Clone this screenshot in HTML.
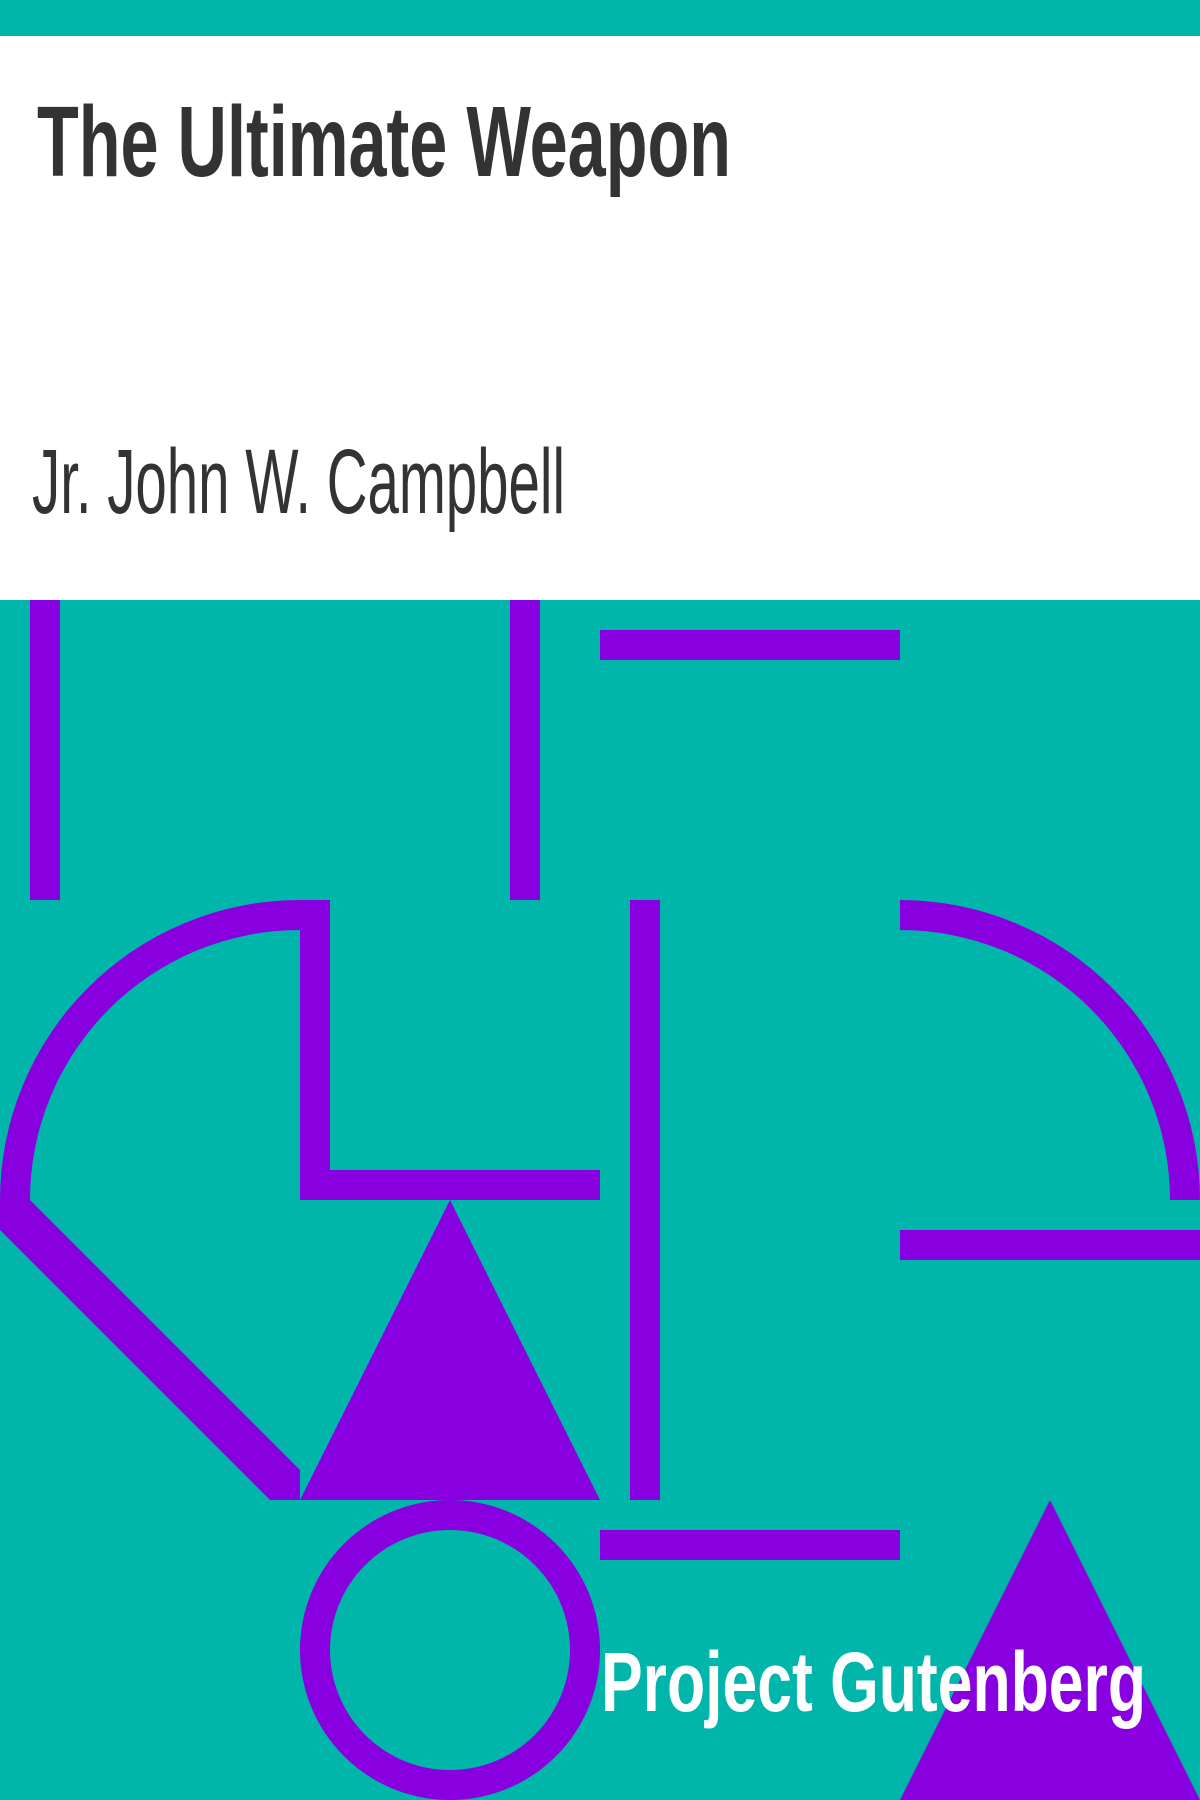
<!DOCTYPE html>
<html><head><meta charset="utf-8"><style>
html,body{margin:0;padding:0;background:#fff;}
svg{display:block;}
</style></head><body>
<svg width="1200" height="1800" viewBox="0 0 1200 1800" xmlns="http://www.w3.org/2000/svg">
<rect x="0" y="0" width="1200" height="36" fill="#00b5aa"/>
<rect x="0" y="36" width="1200" height="564" fill="#ffffff"/>
<text x="37" y="176" font-family="Liberation Sans, sans-serif" font-weight="bold" font-size="100" fill="#333" textLength="694" lengthAdjust="spacingAndGlyphs">The Ultimate Weapon</text>
<text x="32" y="513" font-family="Liberation Sans, sans-serif" font-size="92" fill="#333" textLength="533" lengthAdjust="spacingAndGlyphs">Jr. John W. Campbell</text>
<g>
<rect x="0" y="600" width="1200" height="1200" fill="#00b5aa"/>
<g fill="#8800e0">
<rect x="30" y="600" width="30" height="300"/>
<rect x="510" y="600" width="30" height="300"/>
<rect x="600" y="630" width="300" height="30"/>
<path d="M300,900 A300,300 0 0 0 0,1200 L30,1200 A270,270 0 0 1 300,930 Z"/>
<rect x="300" y="900" width="30" height="300"/>
<rect x="300" y="1170" width="300" height="30"/>
<polygon points="0,1200 30,1200 300,1470 300,1500 270,1500 0,1230"/>
<polygon points="450,1200 600,1500 300,1500"/>
<rect x="630" y="900" width="30" height="600"/>
<path d="M900,900 A300,300 0 0 1 1200,1200 L1170,1200 A270,270 0 0 0 900,930 Z"/>
<rect x="900" y="1230" width="300" height="30"/>
<rect x="600" y="1530" width="300" height="30"/>
<polygon points="1050,1500 1200,1800 900,1800"/>
</g>
<circle cx="450" cy="1650" r="135" fill="none" stroke="#8800e0" stroke-width="30"/>
</g>
<text x="601" y="1711" font-family="Liberation Sans, sans-serif" font-weight="bold" font-size="84" fill="#fff" textLength="545" lengthAdjust="spacingAndGlyphs">Project Gutenberg</text>
</svg>
</body></html>
